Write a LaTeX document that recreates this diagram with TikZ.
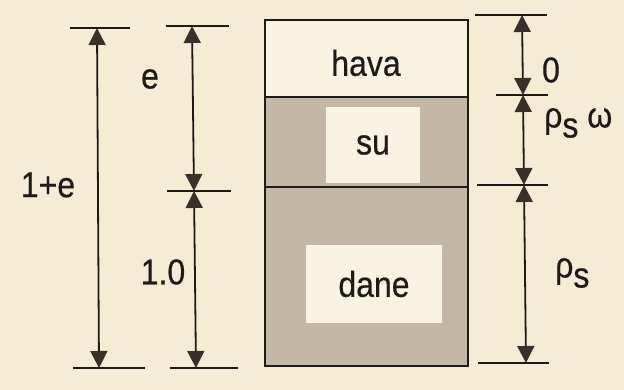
\documentclass[tikz,border=0pt]{standalone}
\usepackage{fontspec}
\setmainfont{Liberation Sans}
\newfontfamily\labelfont[FakeBold=0.5]{Liberation Sans}
\usetikzlibrary{arrows.meta}
\definecolor{paper}{RGB}{246,236,214}
\definecolor{pale}{RGB}{250,243,225}
\definecolor{sand}{RGB}{196,184,165}
\definecolor{ink}{RGB}{30,26,24}
\definecolor{head}{RGB}{58,48,42}
\newcommand{\tall}[1]{\scalebox{1}[1.12]{#1}}
\newcommand{\subs}{\raisebox{-0.28em}{s}}
\begin{document}
\begin{tikzpicture}[x=1pt,y=-1pt,
  dim/.style={draw=ink, line width=1.8pt,
    {Triangle[length=17pt,width=17pt,color=head,fill=head]}-{Triangle[length=17pt,width=17pt,color=head,fill=head]}},
  tick/.style={draw=ink, line width=1.8pt},
  lbl/.style={font=\labelfont\fontsize{32}{32}\selectfont, text=ink, inner sep=0pt},
  hole/.style={fill=pale, inner sep=0pt, font=\labelfont\fontsize{32}{32}\selectfont, text=ink}]

  % paper
  \fill[paper] (0,0) rectangle (624,390);
  \useasboundingbox (0,0) rectangle (624,390);

  % phase column
  \fill[pale] (265,20) rectangle (468,97);
  \fill[sand] (265,97) rectangle (468,366);
  \node[hole, minimum width=94pt, minimum height=76pt] (su) at (373,145) {\tall{su}};
  \node[hole, minimum width=136pt, minimum height=77pt] (dane) at (374,284) {\tall{dane}};
  \node[lbl] (hava) at (366,63) {\tall{hava}};
  \draw[ink, line width=2.6pt] (265,20) rectangle (468,366);
  \draw[ink, line width=2.6pt] (265,97) -- (468,97);
  \draw[ink, line width=2.6pt] (265,187) -- (468,187);

  % left dimension: 1+e
  \coordinate (a1) at (70,28);  \coordinate (a2) at (130,28);
  \coordinate (b1) at (73,368); \coordinate (b2) at (145,368);
  \coordinate (at) at (97,28);  \coordinate (ab) at (99,368);
  \draw[tick] (a1) -- (a2);
  \draw[tick] (b1) -- (b2);
  \draw[dim] (at) -- (ab);
  \node[lbl] (ope) at (48,185) {\tall{1+e}};

  % middle dimension: e and 1.0
  \coordinate (c1) at (166,26);  \coordinate (c2) at (229,26);
  \coordinate (d1) at (167,191); \coordinate (d2) at (231,191);
  \coordinate (e1) at (170,368); \coordinate (e2) at (238,368);
  \coordinate (ct) at (192,26);  \coordinate (cm) at (194,191); \coordinate (cb) at (196,368);
  \draw[tick] (c1) -- (c2);
  \draw[tick] (d1) -- (d2);
  \draw[tick] (e1) -- (e2);
  \draw[dim] (ct) -- (cm);
  \draw[dim] (cm) -- (cb);
  \node[lbl] (le) at (150,79) {\tall{e}};
  \node[lbl] (lone) at (163,272) {\tall{1.0}};

  % right dimension: masses
  \coordinate (f1) at (475,15);  \coordinate (f2) at (547,15);
  \coordinate (g1) at (496,95);  \coordinate (g2) at (548,95);
  \coordinate (h1) at (477,185); \coordinate (h2) at (548,185);
  \coordinate (k1) at (478,363); \coordinate (k2) at (549,363);
  \coordinate (rt) at (522,15);  \coordinate (rg) at (523,95);
  \coordinate (rh) at (524,185); \coordinate (rb) at (526,363);
  \draw[tick] (f1) -- (f2);
  \draw[tick] (g1) -- (g2);
  \draw[tick] (h1) -- (h2);
  \draw[tick] (k1) -- (k2);
  \draw[dim] (rt) -- (rg);
  \draw[dim] (rg) -- (rh);
  \draw[dim] (rh) -- (rb);
  \node[lbl] (lzero) at (551,70) {\tall{0}};
  \node[lbl, anchor=west] (lrw) at (544,123) {\tall{ρ\subs\ ω}};
  \node[lbl, anchor=west] (lrs) at (555,273) {\tall{ρ\subs}};
\end{tikzpicture}
\end{document}
